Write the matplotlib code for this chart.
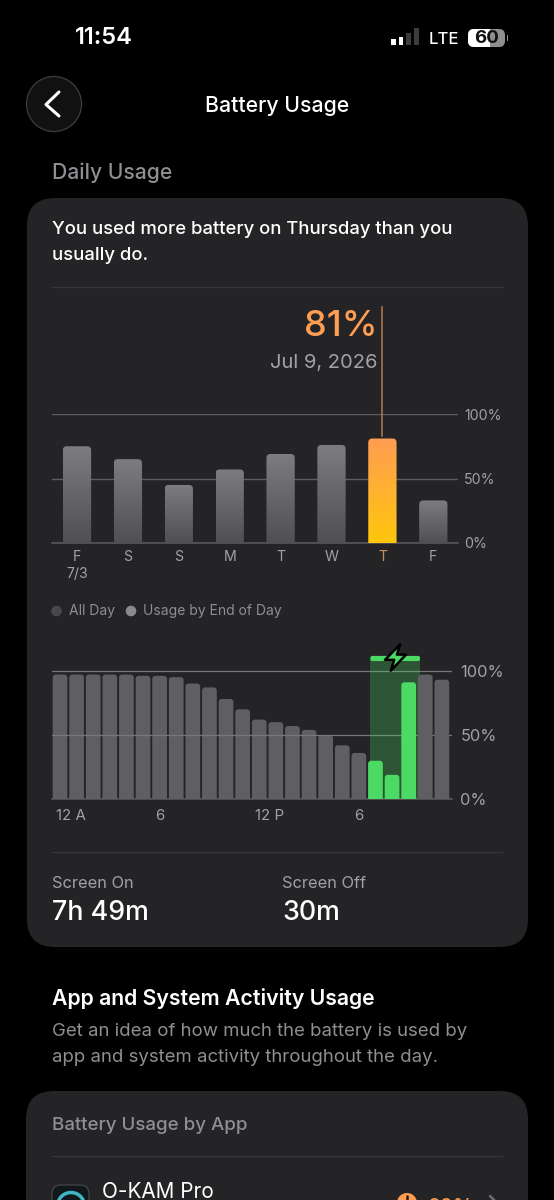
import numpy as np
import matplotlib
matplotlib.use("Agg")
import matplotlib.pyplot as plt
from matplotlib.colors import LinearSegmentedColormap
from matplotlib.patches import Circle, FancyBboxPatch, Rectangle
from matplotlib.path import Path

plt.rcParams['font.family'] = ['Inter', 'DejaVu Sans']

W, H = 554, 1200

days = ["F\n7/3", "S", "S", "M", "T", "W", "T", "F"]
daily_usage = [75, 65, 45, 57, 69, 76, 81, 33]
highlight_day = 6

hourly_level = [97, 97, 97, 97, 97, 96, 96, 95, 90, 87, 78, 70,
                62, 60, 57, 54, 50, 42, 36, 30, 19, 91, 97, 93]
charging_hours = [19, 20, 21]
hour_ticks = [0.65, 6, 12.65, 18]
hour_labels = ["12 A", "6", "12 P", "6"]
pct_ticks = [0, 50, 100]
pct_labels = ["0%", "50%", "100%"]

BG = "#000000"
CARD = "#242426"
GRID = "#5e5e60"
LABEL = "#a2a2a6"
MUTED = "#8e8e93"
ORANGE = "#ff9d52"
GREEN = "#4cd964"

gray_cm = LinearSegmentedColormap.from_list("g", ["#505053", "#7c7c81"])
orange_cm = LinearSegmentedColormap.from_list("o", ["#ffc60d", "#ff9d52"])


def axes_px(fig, x0, y0, x1, y1):
    # pixel box, y measured from the top of the picture
    return fig.add_axes([x0 / W, 1 - y1 / H, (x1 - x0) / W, (y1 - y0) / H])


def round_bar(ax, x, h, w, r, aspect, color=None, cmap=None, z=3):
    # bottom of the box runs below zero so only the top corners show round
    low = -12
    p = FancyBboxPatch((x - w / 2, low), w, h - low,
                       boxstyle="round,pad=0,rounding_size=%f" % r,
                       mutation_aspect=aspect, linewidth=0,
                       facecolor=color if color else "none", zorder=z)
    ax.add_patch(p)
    if cmap is not None:
        im = ax.imshow(np.linspace(0, 1, 64).reshape(-1, 1), cmap=cmap, origin="lower",
                       extent=(x - w / 2, x + w / 2, 0, h), aspect="auto",
                       interpolation="bilinear", zorder=z)
        im.set_clip_path(p)


def style_axis(ax):
    ax.set_facecolor("none")
    for s in ["top", "left", "right"]:
        ax.spines[s].set_visible(False)
    ax.spines["bottom"].set_color("#5c5c5e")
    ax.spines["bottom"].set_linewidth(1.1)
    ax.yaxis.tick_right()
    ax.set_yticks(pct_ticks)
    ax.set_yticklabels(pct_labels)


fig = plt.figure(figsize=(W / 100, H / 100), dpi=100, facecolor=BG)

# page layer in pixels
ui = fig.add_axes([0, 0, 1, 1])
ui.set_xlim(0, W)
ui.set_ylim(H, 0)
ui.axis("off")


def card(x0, y0, x1, y1, r=28):
    ui.add_patch(FancyBboxPatch((x0, y0), x1 - x0, y1 - y0,
                                boxstyle="round,pad=0,rounding_size=%d" % r,
                                facecolor=CARD, edgecolor="none", clip_on=True))


def label(x, y, s, size, color="white", ha="left", weight="normal"):
    ui.text(x, y + 1.5, s, fontsize=size, color=color, ha=ha, va="center", weight=weight)


card(27, 198, 528, 947)
card(26, 1091, 528, 1300)

# status bar
label(75, 37, "11:54", 17, weight="semibold")
for i, bh in enumerate([6, 8.5, 12.5, 17]):
    ui.add_patch(Rectangle((391 + i * 7.7, 45 - bh), 4.7, bh,
                           color="white" if i < 2 else "#3c3c3e", lw=0))
label(429, 37.5, "LTE", 12, weight="medium")
ui.add_patch(FancyBboxPatch((468, 29), 37, 18, boxstyle="round,pad=0,rounding_size=6",
                            facecolor="#8e8e8e", edgecolor="none"))
clip = FancyBboxPatch((468, 29), 37, 18, boxstyle="round,pad=0,rounding_size=6",
                      facecolor="none", edgecolor="none")
ui.add_patch(clip)
fill = Rectangle((468, 29), 22, 18, color="white", lw=0)
ui.add_patch(fill)
fill.set_clip_path(clip)
ui.add_patch(Rectangle((506.5, 35), 1.6, 6, color="#8e8e8e", lw=0))
ui.text(487, 38.5, "60", fontsize=13.5, color="#111111", ha="center", va="center", weight="bold")

# nav bar
ui.add_patch(Circle((54, 104), 27.5, facecolor="#111112", edgecolor="#3a3a3c", lw=1))
ui.plot([59, 46, 59], [92, 104.5, 116], color="white", lw=2.2, solid_capstyle="round",
        solid_joinstyle="round")
label(277, 104.5, "Battery Usage", 15.3, ha="center", weight="medium")
label(52, 171.5, "Daily Usage", 15.2, color=MUTED, weight="medium")

label(52, 228.5, "You used more battery on Thursday than you", 13.3, weight="medium")
label(52, 254.5, "usually do.", 13.3, weight="medium")
ui.plot([52, 502], [287, 287], color="#38383a", lw=0.9)

label(377, 325, "81%", 26, color=ORANGE, ha="right", weight="medium")
label(377, 361.5, "Jul 9, 2026", 14.5, color=LABEL, ha="right")

# legend row
ui.add_patch(Circle((56.5, 611), 5.3, color="#48484a", lw=0))
label(69, 610, "All Day", 10, color=MUTED)
ui.add_patch(Circle((131, 611), 5.3, color="#8a8a8c", lw=0))
label(143, 610, "Usage by End of Day", 10, color=MUTED)

ui.plot([52, 502], [852, 852], color="#38383a", lw=0.9)
label(52, 881.5, "Screen On", 11.8, color=LABEL)
label(52, 911, "7h 49m", 19.3, weight="medium")
label(282, 881.5, "Screen Off", 11.8, color=LABEL)
label(282, 911, "30m", 19.3, weight="medium")

label(52, 997, "App and System Activity Usage", 15.3, weight="semibold")
label(52, 1030, "Get an idea of how much the battery is used by", 13.4, color=MUTED)
label(52, 1056, "app and system activity throughout the day.", 13.4, color=MUTED)

label(52, 1124, "Battery Usage by App", 13.5, color=MUTED, weight="medium")
ui.plot([52, 502], [1156, 1156], color="#38383a", lw=0.9)
ui.add_patch(FancyBboxPatch((52, 1185), 37, 40, boxstyle="round,pad=0,rounding_size=9",
                            facecolor="#10181c", edgecolor="#4a4a4c", lw=0.8))
ui.add_patch(Circle((71, 1206), 13.5, facecolor="none", edgecolor="#3fb6c4", lw=2.5))
label(102, 1190, "O-KAM Pro", 14.9)
ui.add_patch(Circle((407, 1203), 10, color=ORANGE, lw=0))
ui.plot([407, 407], [1196, 1202], color="#2a1a0c", lw=1.8, solid_capstyle="round")
label(428, 1206, "82%", 15, color=ORANGE)
ui.plot([490, 497, 490], [1196, 1203, 1210], color="#6c6c70", lw=1.8, solid_capstyle="round")

# daily chart
ax = axes_px(fig, 52, 414, 458, 543)
style_axis(ax)
px_x = 50.9
xs = np.arange(len(days))
for i, v in zip(xs, daily_usage):
    cm = orange_cm if i == highlight_day else gray_cm
    round_bar(ax, i, v, 28.3 / px_x, 4 / px_x, (100 / 129) * px_x, cmap=cm)
ax.plot([highlight_day, highlight_day], [daily_usage[highlight_day] + 2, 183], color="#b57a50",
        lw=1.1, clip_on=False, zorder=2)
ax.set_xlim(-0.491, 7.485)
ax.set_ylim(0, 100)
ax.set_xticks(xs)
ax.set_xticklabels(days, linespacing=1.25)
ax.grid(axis="y", color=GRID, lw=1)
ax.set_axisbelow(True)
ax.tick_params(length=0, labelsize=10.2, labelcolor=LABEL)
ax.xaxis.get_ticklabels()[highlight_day].set_color("#c8905f")
ax.tick_params(axis="x", pad=5)
ax.tick_params(axis="y", pad=4.3)

# hourly chart, axes run above 100 to hold the charging band
ax2 = axes_px(fig, 52, 650, 452, 799.3)
style_axis(ax2)
px_h = 16.6
top = 149.3 / 1.286
hours = np.arange(len(hourly_level))
for h, v in zip(hours, hourly_level):
    round_bar(ax2, h, v, 14.7 / px_h, 3 / px_h, (100 / 128.6) * px_h,
              color=GREEN if h in charging_hours else "#5f5f63",
              z=4 if h in charging_hours or h > charging_hours[-1] else 2)
ax2.axvspan(charging_hours[0] - 0.3, charging_hours[-1] + 0.68, ymin=0, ymax=110 / top,
            color=GREEN, alpha=0.27, lw=0, zorder=3)
pill = FancyBboxPatch((charging_hours[0] - 0.3, 107.5), len(charging_hours) - 0.02, 4,
                      boxstyle="round,pad=0,rounding_size=0.1", mutation_aspect=(100 / 128.6) * px_h,
                      facecolor=GREEN, linewidth=0, zorder=5)
ax2.add_patch(pill)
bolt = Path([(0.36, 1), (-0.8, -0.18), (-0.1, -0.18), (-0.36, -1), (0.8, 0.22), (0.1, 0.22),
             (0.36, 1)], closed=True)
ax2.plot([20.2], [110.7], marker=bolt, ms=19, mfc=GREEN, mec="black", mew=1.8, clip_on=False,
         zorder=6)
ax2.set_xlim(-0.482, 23.61)
ax2.set_ylim(0, top)
ax2.set_xticks(hour_ticks)
ax2.set_xticklabels(hour_labels)
ax2.grid(axis="y", color="#77777a", lw=0.9, zorder=5)
ax2.set_axisbelow(False)
ax2.tick_params(length=0, labelsize=11.8, labelcolor=LABEL)
ax2.tick_params(axis="x", labelsize=10.8, pad=7)
ax2.tick_params(axis="y", pad=6)

fig.savefig("out.png", dpi=100, facecolor=BG)
